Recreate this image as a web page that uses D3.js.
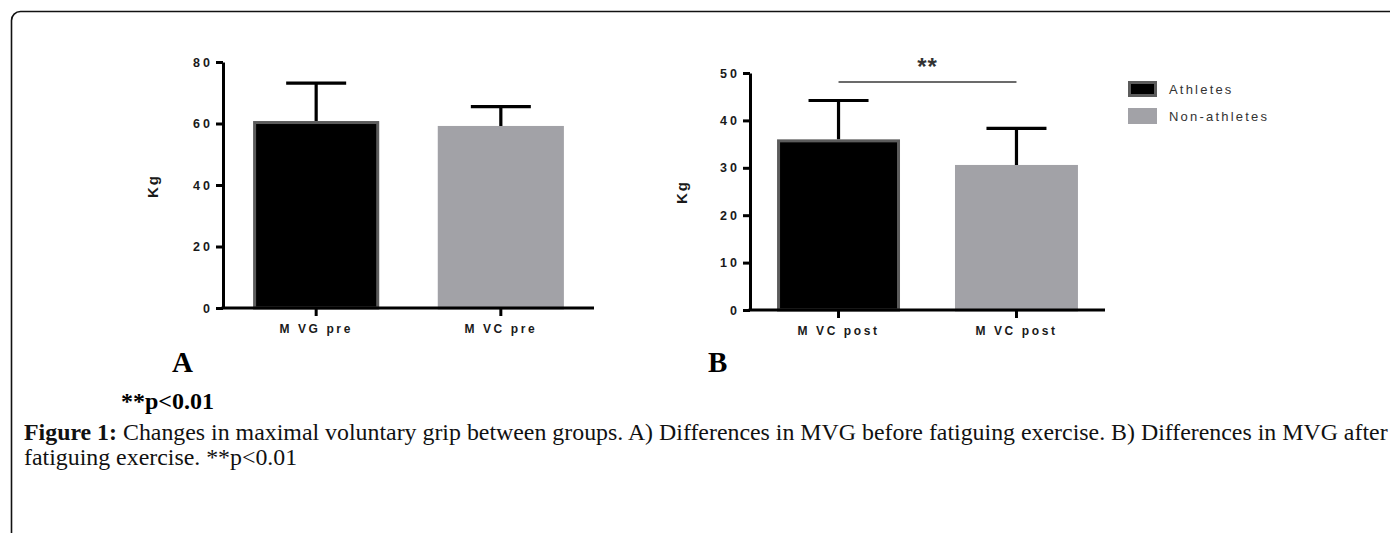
<!DOCTYPE html>
<html>
<head>
<meta charset="utf-8">
<script src="https://cdn.jsdelivr.net/npm/d3@7"></script>
<style>
  body { margin: 0; background: #fff; }
  svg { display: block; }
  .tick text { font-family: Arial, "Liberation Sans", sans-serif; font-weight: bold; fill: #1a1a1a; }
</style>
</head>
<body>
<div id="chart"></div>
<script>
const width = 1390,
  height = 533;

// data
const groups = ["Athletes", "Non-athletes"];
const groupFill = ["#000000", "#a2a2a7"];
const groupStroke = ["#5c5c5c", "#a2a2a7"];

const labelsA = ["M VG pre", "M VC pre"];
const meansA = [60.8, 59.2];
const sdA = [12.3, 6.3];
const ticksA = [0, 20, 40, 60, 80];

const labelsB = ["M VC post", "M VC post"];
const meansB = [36.0, 30.6];
const sdB = [8.2, 7.7];
const ticksB = [0, 10, 20, 30, 40, 50];

const sigText = "**";
const captionBold = "Figure 1:";
const captionLine1 =
  " Changes in maximal voluntary grip between groups. A) Differences in MVG before fatiguing exercise. B) Differences in MVG after";
const captionLine2 = "fatiguing exercise. **p<0.01";
const pNote = "**p<0.01";

const svg = d3
  .select("#chart")
  .append("svg")
  .attr("width", width)
  .attr("height", height);

svg.append("rect").attr("width", width).attr("height", height).attr("fill", "#fff");

// outer frame, runs off the right and bottom edge
svg
  .append("rect")
  .attr("x", 11.5)
  .attr("y", 11.5)
  .attr("width", 1500)
  .attr("height", 700)
  .attr("rx", 9)
  .attr("fill", "none")
  .attr("stroke", "#111")
  .attr("stroke-width", 1.6);

function drawPanel(p) {
  const x = d3
    .scaleBand()
    .domain(groups)
    .range([p.x0, p.x1])
    .paddingInner(p.inner)
    .paddingOuter(p.outer);

  const y = d3.scaleLinear().domain([0, d3.max(p.ticks)]).range([p.y0, p.y1]);

  const g = svg.append("g");

  const rows = groups.map((k, i) => ({ key: k, i: i, mean: p.means[i], sd: p.sd[i] }));

  // bars
  g.selectAll("rect.bar")
    .data(rows)
    .join("rect")
    .attr("class", "bar")
    .attr("x", (d) => x(d.key) + 1.5)
    .attr("width", x.bandwidth() - 3)
    .attr("y", (d) => y(d.mean) + 1.5)
    .attr("height", (d) => p.y0 - y(d.mean) - 1.5)
    .attr("fill", (d) => groupFill[d.i])
    .attr("stroke", (d) => groupStroke[d.i])
    .attr("stroke-width", 3);

  // upper error bars
  const cap = 30;
  g.selectAll("path.err")
    .data(rows)
    .join("path")
    .attr("class", "err")
    .attr("d", (d) => {
      const cx = x(d.key) + x.bandwidth() / 2;
      return `M${cx},${y(d.mean)}V${y(d.mean + d.sd)}M${cx - cap},${y(d.mean + d.sd)}H${cx + cap}`;
    })
    .attr("fill", "none")
    .attr("stroke", "#000")
    .attr("stroke-width", 3.2);

  // y axis
  const ya = g
    .append("g")
    .attr("transform", `translate(${p.x0},0)`)
    .call(
      d3.axisLeft(y).tickValues(p.ticks).tickSize(7).tickSizeOuter(0).tickPadding(3)
    );
  ya.select(".domain").attr("stroke", "#000").attr("stroke-width", 3);
  ya.selectAll(".tick line").attr("stroke", "#000").attr("stroke-width", 3);
  ya.selectAll(".tick text")
    .style("font-size", "12.5px")
    .style("letter-spacing", "3px");

  // x axis
  const xa = g
    .append("g")
    .attr("transform", `translate(0,${p.y0})`)
    .call(
      d3
        .axisBottom(x)
        .tickSize(8)
        .tickSizeOuter(0)
        .tickPadding(8)
        .tickFormat((k) => p.labels[groups.indexOf(k)])
    );
  xa.select(".domain")
    .attr("stroke", "#000")
    .attr("stroke-width", 3)
    .attr("d", `M${p.x0 - 1.5},0H${p.x1}`);
  xa.selectAll(".tick line").attr("stroke", "#000").attr("stroke-width", 3);
  xa.selectAll(".tick text")
    .style("font-size", "12px")
    .style("letter-spacing", "2.6px");

  // y title
  g.append("text")
    .attr("transform", `translate(${p.titleX},${p.titleY}) rotate(-90)`)
    .attr("text-anchor", "middle")
    .attr("dy", "0.35em")
    .style("font-family", "Arial, 'Liberation Sans', sans-serif")
    .style("font-weight", "bold")
    .style("font-size", "15px")
    .style("letter-spacing", "2px")
    .attr("fill", "#1a1a1a")
    .text("Kg");

  // panel letter
  g.append("text")
    .attr("x", p.letterX)
    .attr("y", 372)
    .style("font-family", "'Liberation Serif', 'Times New Roman', serif")
    .style("font-weight", "bold")
    .style("font-size", "29px")
    .attr("fill", "#000")
    .text(p.letter);

  return { x, y, g };
}

drawPanel({
  x0: 223, x1: 594, y0: 308, y1: 62,
  inner: 0.317, outer: 0.163,
  means: meansA, sd: sdA, ticks: ticksA, labels: labelsA,
  titleX: 153, titleY: 186, letter: "A", letterX: 172,
});

const pb = drawPanel({
  x0: 750, x1: 1105, y0: 310, y1: 73,
  inner: 0.309, outer: 0.152,
  means: meansB, sd: sdB, ticks: ticksB, labels: labelsB,
  titleX: 682, titleY: 192, letter: "B", letterX: 708,
});

// significance bracket in panel B
const c1 = pb.x(groups[0]) + pb.x.bandwidth() / 2,
  c2 = pb.x(groups[1]) + pb.x.bandwidth() / 2;
svg
  .append("line")
  .attr("x1", c1)
  .attr("x2", c2)
  .attr("y1", 82)
  .attr("y2", 82)
  .attr("stroke", "#3a3a3a")
  .attr("stroke-width", 1.6);
svg
  .append("text")
  .attr("x", (c1 + c2) / 2)
  .attr("y", 75)
  .attr("text-anchor", "middle")
  .style("font-family", "Arial, 'Liberation Sans', sans-serif")
  .style("font-weight", "bold")
  .style("font-size", "24px")
  .style("letter-spacing", "1px")
  .attr("fill", "#333")
  .text(sigText);

// legend
const legend = svg
  .append("g")
  .selectAll("g")
  .data(groups)
  .join("g")
  .attr("transform", (d, i) => `translate(1128,${81 + i * 27})`);
legend
  .append("rect")
  .attr("x", 1.5)
  .attr("y", 1.5)
  .attr("width", 26)
  .attr("height", 13)
  .attr("fill", (d, i) => groupFill[i])
  .attr("stroke", (d, i) => groupStroke[i])
  .attr("stroke-width", 3);
legend
  .append("text")
  .attr("x", 41)
  .attr("y", 8)
  .attr("dy", "0.35em")
  .style("font-family", "Arial, 'Liberation Sans', sans-serif")
  .style("font-size", "13px")
  .style("letter-spacing", "2.2px")
  .attr("fill", "#333")
  .text((d) => d);

// p note under panel A
svg
  .append("text")
  .attr("x", 121)
  .attr("y", 409)
  .style("font-family", "'Liberation Serif', 'Times New Roman', serif")
  .style("font-weight", "bold")
  .style("font-size", "24px")
  .attr("fill", "#000")
  .text(pNote);

// caption
const serif = "'Liberation Serif', 'Times New Roman', serif";
const cap1 = svg
  .append("text")
  .attr("x", 24)
  .attr("y", 440)
  .style("font-family", serif)
  .style("font-size", "20px")
  .attr("fill", "#111");
cap1.append("tspan").style("font-weight", "bold").text(captionBold);
cap1.append("tspan").text(captionLine1);

const cap2 = svg
  .append("text")
  .attr("x", 24)
  .attr("y", 465)
  .style("font-family", serif)
  .style("font-size", "20px")
  .attr("fill", "#111")
  .text(captionLine2);

// scale the caption so the first line spans the frame like the original
const w1 = cap1.node().getComputedTextLength();
const fs = 20 * (1364 / w1);
cap1.style("font-size", fs + "px");
cap2.style("font-size", fs + "px");
</script>
</body>
</html>
